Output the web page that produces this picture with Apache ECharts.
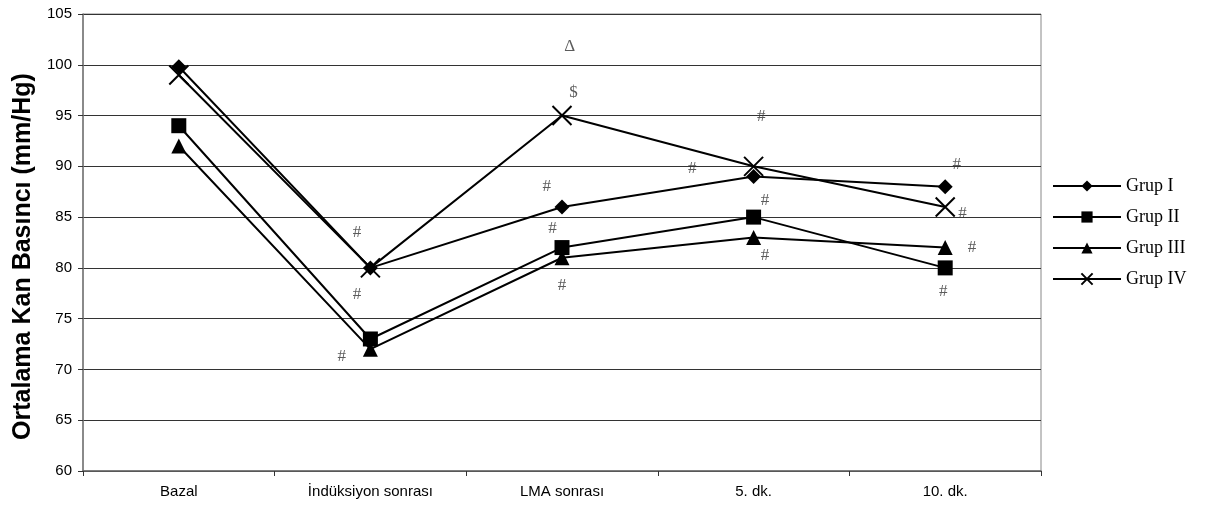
<!DOCTYPE html>
<html>
<head>
<meta charset="utf-8">
<script src="https://cdn.jsdelivr.net/npm/echarts@6/dist/echarts.min.js"></script>
<style>html,body{margin:0;padding:0;background:#fff;}#c{width:1219px;height:508px;}</style>
</head>
<body>
<div id="c"></div>
<script>
const categories = ['Bazal', 'İndüksiyon sonrası', 'LMA sonrası', '5. dk.', '10. dk.'];
const grup1 = [99.8, 80, 86, 89, 88];
const grup2 = [94, 73, 82, 85, 80];
const grup3 = [92, 72, 81, 83, 82];
const grup4 = [99, 80, 95, 90, 86];
const yTicks = [60, 65, 70, 75, 80, 85, 90, 95, 100, 105];
// annotation marks: [category position (fractional), value, text]
const annX = [0.93, 0.93, 0.85, 2.04, 2.06, 1.92, 1.95, 2.0, 2.68, 3.04, 3.06, 3.06, 4.06, 4.09, 4.14, 3.99];
const annY = [83.5, 77.4, 71.3, 101.8, 97.3, 88.0, 83.9, 78.3, 89.8, 94.9, 86.6, 81.2, 90.2, 85.4, 82.0, 77.7];
const annText = ['#', '#', '#', 'Δ', '$', '#', '#', '#', '#', '#', '#', '#', '#', '#', '#', '#'];

const chart = echarts.init(document.getElementById('c'));
const crossPath = 'path://M0,0L10,10M10,0L0,10';
function lineSeries(name, data, symbol, size, extra) {
  return Object.assign({
    name: name, type: 'line', data: data, symbol: symbol, symbolSize: size,
    lineStyle: { color: '#000', width: 2 },
    itemStyle: { color: '#000' },
    showAllSymbol: true, animation: false, z: 5
  }, extra || {});
}
chart.setOption({
  animation: false,
  grid: { left: 83, right: 178, top: 14, bottom: 37, show: true, borderColor: '#888', borderWidth: 1 },
  xAxis: [{
    type: 'category', data: categories, boundaryGap: true,
    axisLine: { lineStyle: { color: '#666', width: 1.5 } },
    axisTick: { show: true, length: 5, lineStyle: { color: '#333' } },
    axisLabel: { color: '#000', fontFamily: 'Liberation Sans, Arial', fontSize: 15, margin: 13 }
  }, {
    type: 'value', min: -0.5, max: 4.5, show: false
  }],
  yAxis: {
    type: 'value', min: 60, max: 105, interval: 5,
    name: 'Ortalama Kan Basıncı (mm/Hg)', nameLocation: 'middle', nameGap: 46,
    nameTextStyle: { fontFamily: 'Liberation Sans, Arial', fontWeight: 'bold', fontSize: 25, color: '#000', padding: [0, 28, 0, 0] },
    axisLine: { show: true, onZero: false, lineStyle: { color: '#777', width: 1.5 } },
    axisTick: { show: true, length: 5, lineStyle: { color: '#333' } },
    axisLabel: { color: '#000', fontFamily: 'Liberation Sans, Arial', fontSize: 15, margin: 11,
      formatter: function (v) { return yTicks.indexOf(v) >= 0 ? String(v) : ''; } },
    splitLine: { lineStyle: { color: '#333', width: 1 } }
  },
  legend: {
    orient: 'vertical', left: 1052, top: 177, padding: 0,
    itemWidth: 68, itemHeight: 14, itemGap: 13,
    data: ['Grup I', 'Grup II', 'Grup III', 'Grup IV'],
    textStyle: { fontFamily: 'Liberation Serif, Times New Roman', fontSize: 18, color: '#000', lineHeight: 17 }
  },
  series: [
    lineSeries('Grup I', grup1, 'diamond', 15),
    lineSeries('Grup II', grup2, 'rect', 15),
    lineSeries('Grup III', grup3, 'triangle', 15),
    lineSeries('Grup IV', grup4, crossPath, 19, {
      itemStyle: { color: 'none', borderColor: '#000', borderWidth: 2 }
    }),
    {
      name: 'ann', type: 'scatter', xAxisIndex: 1, symbolSize: 0, silent: true, z: 2,
      data: annX.map(function (x, i) { return { value: [x, annY[i]], name: annText[i] }; }),
      label: { show: true, position: 'inside', formatter: function (p) { return p.name; },
        fontFamily: 'Liberation Serif, Times New Roman', fontSize: 17, color: '#333' }
    }
  ]
});
</script>
</body>
</html>
